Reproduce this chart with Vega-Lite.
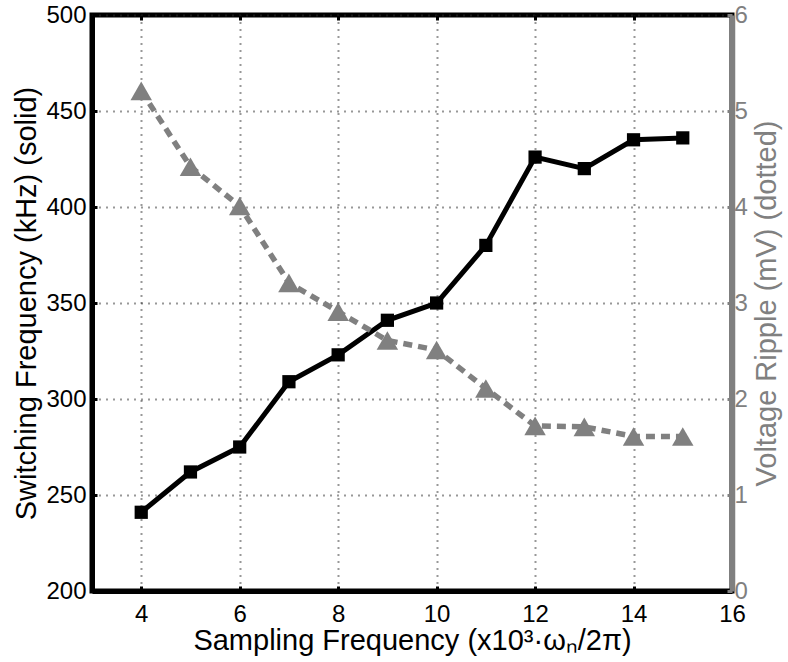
{
  "$schema": "https://vega.github.io/schema/vega-lite/v6.json",
  "width": 640,
  "height": 576,
  "autosize": {"type": "none"},
  "padding": {"left": 92, "top": 15, "right": 56, "bottom": 71},
  "background": "#ffffff",
  "config": {
    "font": "Liberation Sans",
    "view": {"stroke": "#000000", "strokeWidth": 5},
    "axis": {
      "labelFont": "Liberation Sans",
      "titleFont": "Liberation Sans",
      "labelFontSize": 24,
      "titleFontSize": 29,
      "titleFontWeight": "normal",
      "labelColor": "#000000",
      "titleColor": "#000000",
      "tickSize": -5,
      "tickWidth": 3,
      "tickColor": "#000000",
      "domainColor": "#000000",
      "domainWidth": 5,
      "gridColor": "#333333",
      "gridWidth": 2,
      "gridDash": [1, 6],
      "gridOpacity": 1
    }
  },
  "data": {
    "values": [
      {"fs": 4, "sw": 241, "ripple": 5.21},
      {"fs": 5, "sw": 262, "ripple": 4.42},
      {"fs": 6, "sw": 275, "ripple": 4.01},
      {"fs": 7, "sw": 309, "ripple": 3.21},
      {"fs": 8, "sw": 323, "ripple": 2.91},
      {"fs": 9, "sw": 341, "ripple": 2.61},
      {"fs": 10, "sw": 350, "ripple": 2.51},
      {"fs": 11, "sw": 380, "ripple": 2.11},
      {"fs": 12, "sw": 426, "ripple": 1.72},
      {"fs": 13, "sw": 420, "ripple": 1.71},
      {"fs": 14, "sw": 435, "ripple": 1.61},
      {"fs": 15, "sw": 436, "ripple": 1.61}
    ]
  },
  "layer": [
    {
      "encoding": {
        "x": {
          "field": "fs",
          "type": "quantitative",
          "scale": {"domain": [3, 16], "nice": false, "zero": false},
          "axis": {
            "orient": "bottom",
            "values": [4, 6, 8, 10, 12, 14, 16],
            "grid": true,
            "labelPadding": 16,
            "labelFlush": false,
            "title": "Sampling Frequency (x10³·ωₙ/2π)",
            "titlePadding": 0
          }
        },
        "y": {
          "field": "sw",
          "type": "quantitative",
          "scale": {"domain": [200, 500], "nice": false, "zero": false},
          "axis": {
            "orient": "left",
            "values": [200, 250, 300, 350, 400, 450, 500],
            "grid": true,
            "labelPadding": 11,
            "labelFlush": false,
            "title": "Switching Frequency (kHz) (solid)",
            "titlePadding": 4
          }
        }
      },
      "layer": [
        {"mark": {"type": "line", "color": "#000000", "strokeWidth": 5}},
        {"mark": {"type": "point", "shape": "square", "filled": true, "color": "#000000", "size": 175, "opacity": 1}}
      ]
    },
    {
      "encoding": {
        "x": {
          "field": "fs",
          "type": "quantitative",
          "axis": {
            "orient": "top",
            "values": [4, 6, 8, 10, 12, 14, 16],
            "grid": false,
            "labels": false,
            "domain": false,
            "title": null
          }
        },
        "y": {
          "field": "ripple",
          "type": "quantitative",
          "scale": {"domain": [0, 6], "nice": false, "zero": false},
          "axis": {
            "orient": "right",
            "values": [0, 1, 2, 3, 4, 5, 6],
            "grid": false,
            "labelColor": "#808080",
            "tickColor": "#808080",
            "domainColor": "#808080",
            "domainWidth": 5.5,
            "labelPadding": 7,
            "labelFlush": false,
            "title": "Voltage Ripple (mV) (dotted)",
            "titleColor": "#808080",
            "titleAngle": 270,
            "titleBaseline": "top",
            "titlePadding": 5
          }
        }
      },
      "layer": [
        {"mark": {"type": "line", "color": "#808080", "strokeWidth": 5.5, "strokeDash": [9, 6]}},
        {"mark": {"type": "point", "shape": "triangle-up", "filled": true, "color": "#808080", "size": 460, "opacity": 1}}
      ]
    }
  ],
  "resolve": {"scale": {"y": "independent"}, "axis": {"x": "independent", "y": "independent"}}
}
